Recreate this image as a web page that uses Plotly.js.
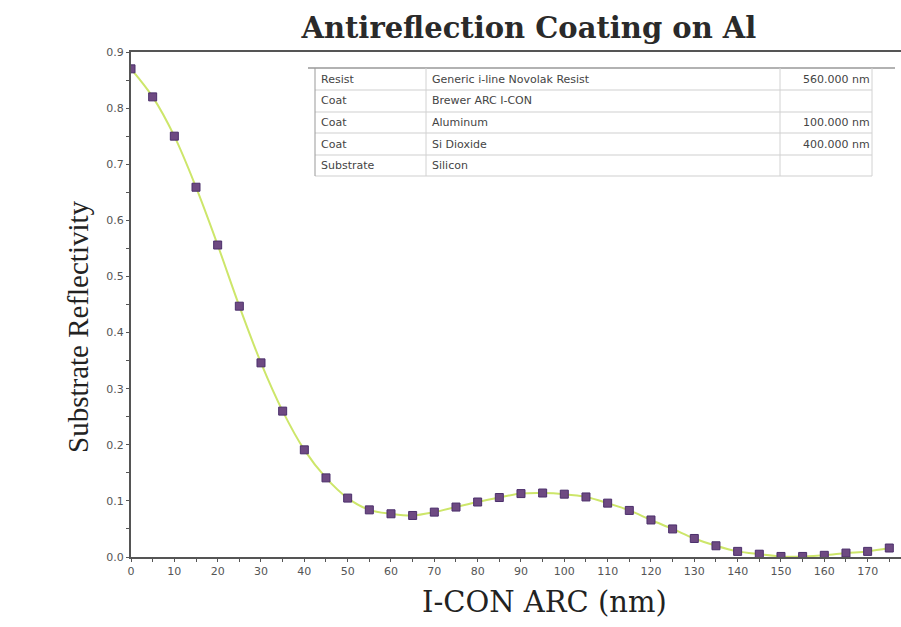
<!DOCTYPE html>
<html><head><meta charset="utf-8">
<script src="https://cdn.plot.ly/plotly-3.0.1.min.js"></script>
<style>html,body{margin:0;padding:0;background:#fff}#c{width:901px;height:627px}</style>
</head><body><div id="c"></div>
<script>
const thickness = [0,5,10,15,20,25,30,35,40,45,50,55,60,65,70,75,80,85,90,95,100,105,110,115,120,125,130,135,140,145,150,155,160,165,170,175];
const reflectivity = [0.870,0.820,0.750,0.659,0.556,0.447,0.346,0.260,0.191,0.141,0.105,0.084,0.077,0.074,0.080,0.089,0.098,0.106,0.113,0.114,0.112,0.107,0.096,0.083,0.066,0.050,0.033,0.020,0.010,0.005,0.001,0.001,0.003,0.007,0.010,0.016];
const xTicks = [0,10,20,30,40,50,60,70,80,90,100,110,120,130,140,150,160,170];
const yTicks = [0,0.1,0.2,0.3,0.4,0.5,0.6,0.7,0.8,0.9];
const tableLayer = ["Resist","Coat","Coat","Coat","Substrate"];
const tableMaterial = ["Generic i-line Novolak Resist","Brewer ARC I-CON","Aluminum","Si Dioxide","Silicon"];
const tableThick = ["560.000 nm","","100.000 nm","400.000 nm",""];

const L=131, R=901, T=52, B=557;
const px = v => (v-L)/(R-L);
const py = v => (B-v)/(B-T);

const shapes=[], annotations=[];
const rowsY=[68,90,112,133,155,176];
const colX=[315,426,780,872];
rowsY.forEach((y,i)=>{
  shapes.push({type:'line',xref:'paper',yref:'paper',x0:px(i===0?308:315),x1:px(i===0?895:872),y0:py(y),y1:py(y),
    line:{color:i===0?'#999':'#cfcfcf',width:i===0?1.5:1}});
});
colX.forEach((x,i)=>{
  shapes.push({type:'line',xref:'paper',yref:'paper',x0:px(x),x1:px(x),y0:py(68),y1:py(176),
    line:{color:i===0?'#999':'#d2d2d2',width:1}});
});
for(let i=0;i<5;i++){
  const yc=py((rowsY[i]+rowsY[i+1])/2);
  const f={family:'DejaVu Sans, Verdana, sans-serif',size:11,color:'#444'};
  annotations.push({xref:'paper',yref:'paper',x:px(319),y:yc,xanchor:'left',yanchor:'middle',text:tableLayer[i],showarrow:false,font:f});
  annotations.push({xref:'paper',yref:'paper',x:px(430),y:yc,xanchor:'left',yanchor:'middle',text:tableMaterial[i],showarrow:false,font:f});
  if(tableThick[i]) annotations.push({xref:'paper',yref:'paper',x:px(872),y:yc,xanchor:'right',yanchor:'middle',text:tableThick[i],showarrow:false,font:f});
}
const serif='DejaVu Serif, Liberation Serif, serif';
annotations.push({xref:'paper',yref:'paper',x:px(544),y:py(602),xanchor:'center',yanchor:'middle',showarrow:false,
  text:'I-CON ARC (nm)',font:{family:serif,size:29,color:'#222'}});
annotations.push({xref:'paper',yref:'paper',x:px(78),y:py(327),xanchor:'center',yanchor:'middle',showarrow:false,textangle:-90,
  text:'Substrate Reflectivity',font:{family:'Liberation Serif, Times New Roman, serif',size:29,color:'#222'}});

const trace={x:thickness,y:reflectivity,type:'scatter',mode:'lines+markers',
  line:{color:'#cde66a',width:2,shape:'spline'},
  marker:{symbol:'square',size:8,color:'#6e4a82',line:{color:'#4b2f6b',width:1}}};

const axisFont={family:'DejaVu Sans, Verdana, sans-serif',size:11,color:'#555'};
const layout={
  width:901,height:627,margin:{l:L,r:0,t:T,b:627-B},
  paper_bgcolor:'#fff',plot_bgcolor:'#fff',showlegend:false,
  title:{text:'<b>Antireflection Coating on Al</b>',font:{family:serif,size:29,color:'#2a2a2a'},x:0.587,xanchor:'center',y:0.955,yanchor:'middle'},
  xaxis:{range:[0,177.7],tickvals:xTicks,ticktext:xTicks.map(String),showgrid:false,zeroline:false,
    showline:true,linecolor:'#555',linewidth:2,mirror:true,ticks:'outside',ticklen:3,tickcolor:'#555',tickfont:axisFont,
    minor:{dtick:5,tick0:0,ticks:'outside',ticklen:3,tickcolor:'#555'}},
  yaxis:{range:[0,0.9],tickvals:yTicks,ticktext:yTicks.map(v=>v.toFixed(1)),showgrid:false,zeroline:false,
    showline:true,linecolor:'#555',linewidth:2,ticks:'outside',ticklen:3,tickcolor:'#555',tickfont:axisFont,
    minor:{dtick:0.05,tick0:0,ticks:'outside',ticklen:3,tickcolor:'#555'}},
  shapes:shapes,annotations:annotations
};
Plotly.newPlot('c',[trace],layout,{displayModeBar:false,staticPlot:true});
</script></body></html>
